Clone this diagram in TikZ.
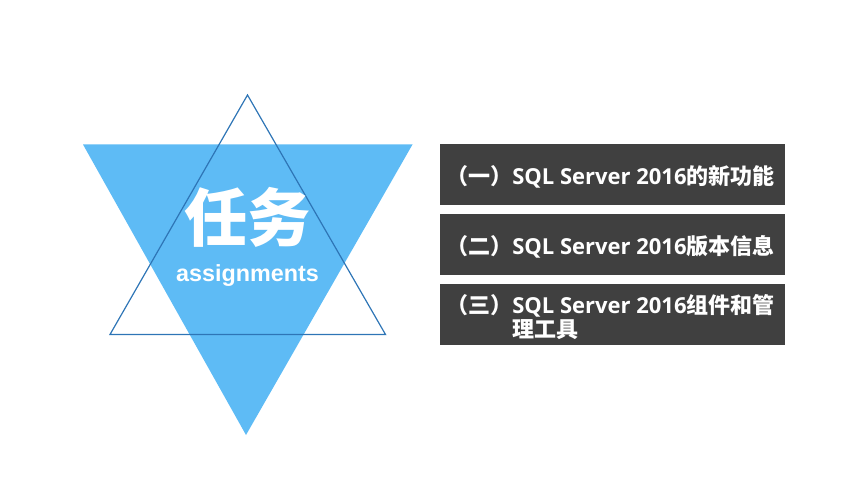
\documentclass[tikz,border=0pt]{standalone}
\usepackage{fontspec}
\usepackage{xcolor}
\setmainfont{Liberation Sans}
\newfontfamily\cjkfont{Noto Sans CJK SC}
\newfontfamily\latinfont{Open Sans}
\definecolor{triblue}{RGB}{94,187,245}
\definecolor{triline}{RGB}{46,117,182}
\definecolor{boxgray}{RGB}{64,64,64}

\begin{document}
\begin{tikzpicture}[x=0.75pt,y=0.75pt,yscale=-1,xscale=1,
  itembox/.style={fill=boxgray,draw=none},
  itemtext/.style={anchor=west,inner sep=0pt,text=white,align=left,font=\cjkfont\bfseries\fontsize{16.5}{18.5}\selectfont}]
\useasboundingbox (0,0) rectangle (860,484);

%Shape: Triangle [down, filled]
\fill [triblue] (83,144.5) -- (412.5,144.5) -- (246,435) -- cycle;
%Shape: Triangle [up, outline]
\draw [triline,line width=0.9] (247.5,95) -- (385.5,334.5) -- (110,334.5) -- cycle;

% Text Node
\draw (247.5,217) node [inner sep=0.75pt,text=white,font=\cjkfont\bfseries\fontsize{47.5}{48}\selectfont] (task) {任务};
% Text Node
\draw (247.5,281.5) node [anchor=base,inner sep=0.75pt,text=white,font=\bfseries\fontsize{17.5}{18}\selectfont] (assign) {assignments};

%Shape: Rectangle [items]
\draw [itembox] (440,144.5) rectangle (784.5,205.5);
\draw [itembox] (440,214.5) rectangle (784.5,275.5);
\draw [itembox] (440,284.5) rectangle (784.5,345.5);

% Text Node
\draw (446,177) node [itemtext] (item1) {（一）{\latinfont SQL Server 2016}的新功能};
% Text Node
\draw (446,246.5) node [itemtext] (item2) {（二）{\latinfont SQL Server 2016}版本信息};
% Text Node
\draw (446,317) node [itemtext] (item3) {（三）{\latinfont SQL Server 2016}组件和管\\\phantom{（三）}理工具};

\end{tikzpicture}
\end{document}
